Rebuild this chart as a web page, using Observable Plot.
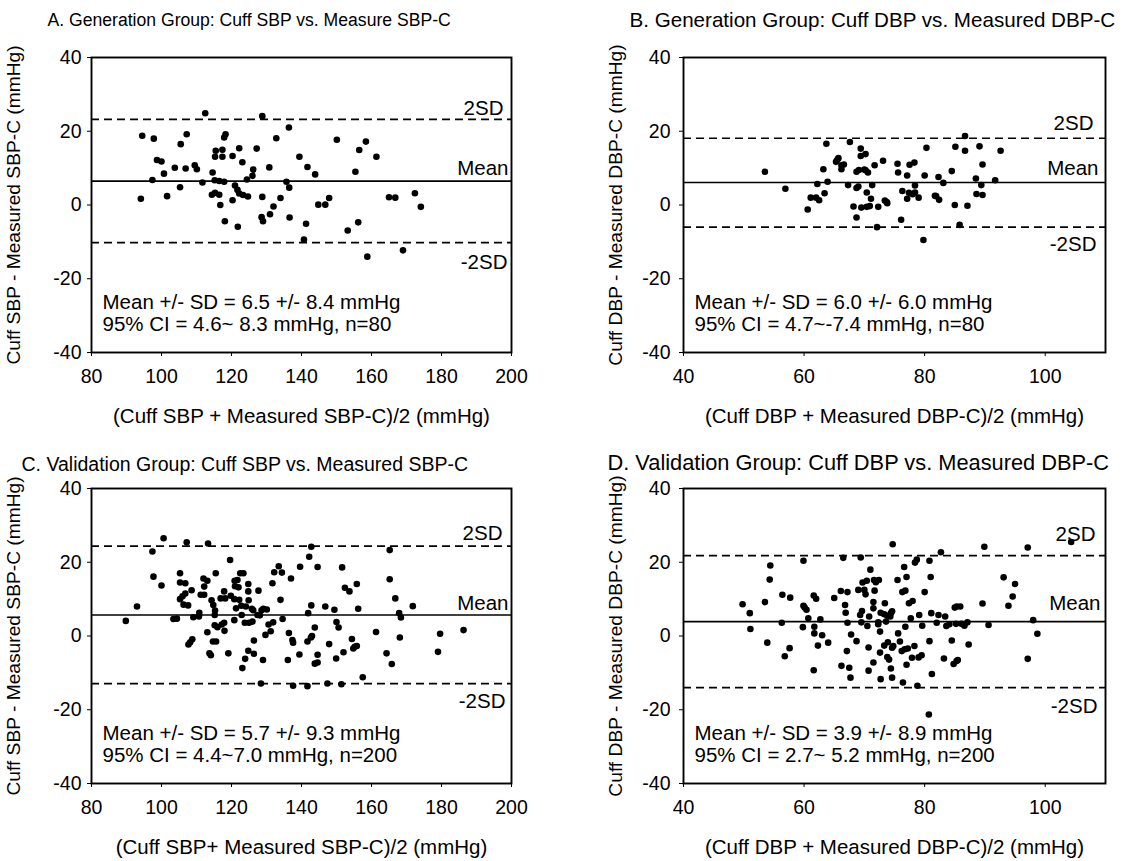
<!DOCTYPE html>
<html>
<head>
<meta charset="utf-8">
<script src="https://cdn.jsdelivr.net/npm/d3@7"></script>
<script src="https://cdn.jsdelivr.net/npm/@observablehq/plot@0.6"></script>
<style>
  body { margin: 0; background: #fff; }
  #wrap { position: relative; width: 1128px; height: 861px; overflow: hidden; background: #fff; }
  .panel { position: absolute; }
</style>
</head>
<body>
<div id="wrap"></div>
<script>
// ---- tick labels ----
const sbpTicks = [80, 100, 120, 140, 160, 180, 200];
const dbpTicks = [40, 60, 80, 100];
const diffTicks = [-40, -20, 0, 20, 40];

// ---- A. Generation group SBP ----
const genSbpAvg = [112.5,128.8,136.4,94.5,97.8,107.2,118.3,117.9,132.8,150.1,
  158.4,105.5,115.5,117.4,122.2,127.2,156.5,115.3,117.4,120.3,
  139.4,161.4,98.7,100.0,123.1,109.5,103.8,106.9,110.1,130.8,
  141.7,100.7,114.6,126.2,143.9,155.4,126.0,97.4,124.4,111.7,
  115.2,116.5,117.9,135.7,136.5,105.3,121.0,121.7,94.1,101.6,
  114.4,115.3,116.5,122.2,123.3,124.7,128.8,134.0,120.3,116.8,
  132.0,144.8,146.8,147.9,165.0,166.8,172.4,174.1,131.0,128.6,
  129.0,136.6,118.1,121.8,141.3,156.2,153.2,140.7,158.8,169.0];
const genSbpDiff = [24.9,24.1,21.0,18.8,18.0,19.2,19.2,18.3,18.1,17.7,
  17.2,16.5,14.7,15.0,15.4,15.3,14.9,13.1,13.1,13.3,
  13.1,13.1,12.2,11.8,11.6,10.8,10.1,9.9,9.7,10.2,
  10.3,8.5,8.8,9.6,8.3,9.0,7.9,6.8,6.9,6.1,
  6.7,6.5,6.3,6.3,4.7,4.8,5.3,4.1,1.7,2.4,
  2.8,3.3,2.8,3.1,2.7,2.3,2.2,1.9,1.3,0.0,
  -0.4,0.1,0.1,1.9,2.1,2.0,3.2,-0.5,-2.5,-3.3,
  -4.4,-3.4,-4.4,-5.9,-5.1,-4.7,-6.9,-9.4,-14.0,-12.3];
const genSbpLines = [6.5, 23.2, -10.2]; // mean, +2SD, -2SD

// ---- B. Generation group DBP ----
const genDbpAvg = [53.5,56.9,60.6,61.1,62.0,62.5,62.2,63.2,63.4,63.7,
  63.9,65.3,65.7,66.2,66.2,66.6,67.6,67.3,68.2,68.7,
  68.7,68.7,69.1,69.4,69.4,69.5,70.2,70.2,70.4,70.6,
  70.4,70.9,71.1,71.3,71.7,72.1,72.3,73.1,73.4,73.8,
  75.5,75.6,76.1,76.3,77.1,77.1,77.5,77.4,78.3,78.4,
  78.4,79.0,79.8,80.0,80.3,81.7,82.3,82.4,83.1,84.5,
  85.0,85.1,85.8,86.7,86.7,87.1,88.5,88.6,89.1,89.4,
  89.6,89.6,91.7,92.6,65.5,69.0,70.0,73.7,78.0,81.9];
const genDbpDiff = [9.0,4.4,-1.2,2.0,2.0,1.3,5.7,9.7,3.2,16.6,
  6.3,11.7,12.7,10.8,9.7,11.0,17.1,5.4,-0.4,4.6,
  -3.4,9.0,9.5,15.3,13.3,-0.7,13.8,9.4,3.4,8.8,
  -0.5,-0.3,1.7,5.4,10.8,-6.0,-0.5,12.0,1.2,0.5,
  11.2,8.8,-4.0,3.8,8.0,1.7,10.9,3.3,11.5,3.4,
  5.3,2.0,-9.5,8.0,15.5,2.5,7.6,1.4,6.0,9.2,
  0.0,15.8,-5.4,18.7,14.7,-0.2,7.2,3.0,15.9,5.4,
  11.0,2.7,6.7,14.7,12.2,5.0,9.6,0.8,2.9,2.4];
const genDbpLines = [6.1, 18.1, -6.0];

// ---- C. Validation group SBP ----
const valSbpAvg = [100.6,107.2,113.3,142.8,165.2,97.4,
  142.2,119.6,133.5,139.6,144.6,151.6,
  132.2,134.4,105.3,115.5,122.5,123.4,97.7,112.0,113.1,121.7,
  120.9,137.0,165.2,105.3,106.8,124.8,131.7,155.8,100.0,112.2,
  121.0,122.0,152.4,153.7,127.7,124.8,108.6,
  117.9,106.8,106.0,111.2,112.2,105.3,116.9,118.2,119.8,120.8,
  122.2,114.3,124.9,134.0,166.8,106.3,107.6,114.8,122.8,124.1,
  142.8,146.8,149.4,156.2,171.8,121.3,125.8,129.1,130.1,126.2,
  128.6,115.3,110.8,
  109.1,110.7,103.4,104.4,115.2,122.9,127.4,128.1,141.9,167.9,168.4,134.6,120.8,89.8,93.0,
  123.8,125.0,126.0,117.9,117.2,115.2,116.0,130.6,131.9,150.0,
  150.6,143.8,118.0,113.1,131.2,136.4,161.3,186.3,179.6,168.1,129.7,
  108.8,108.2,107.7,114.7,115.6,126.4,137.4,137.6,141.7,142.7,
  143.0,154.4,147.9,155.8,154.8,155.2,124.8,126.4,119.1,113.7,
  114.1,139.4,144.6,152.0,164.3,179.0,
  123.9,129.0,136.1,149.9,143.8,144.6,165.8,123.1,
  157.5,128.4,137.6,141.7,147.4,151.4];
const valSbpDiff = [26.5,25.4,25.1,24.2,23.3,22.9,
  21.5,20.6,18.9,18.8,18.7,18.6,
  17.3,17.2,17.0,17.0,17.0,17.0,16.1,15.6,15.0,15.2,
  15.0,15.6,15.4,14.5,14.3,14.1,14.3,14.1,13.7,13.4,
  13.5,13.2,13.1,12.1,12.3,12.1,12.4,
  12.1,11.5,10.8,11.2,11.2,10.0,10.2,10.2,10.9,10.0,
  9.8,9.7,9.7,9.8,10.2,8.5,8.3,8.4,8.2,8.0,
  8.3,8.0,7.1,7.4,8.1,7.5,7.4,7.4,7.2,7.0,
  7.0,6.9,6.3,
  5.1,5.3,4.6,4.7,5.7,5.7,5.7,5.6,6.2,6.2,5.0,4.6,4.3,4.1,8.0,
  3.6,3.6,3.9,3.6,3.1,2.9,2.4,3.1,3.7,3.8,
  2.3,2.3,1.4,1.0,1.3,0.8,1.1,1.6,0.6,-0.4,0.3,
  -0.9,-1.7,-2.3,-1.5,-1.5,-1.2,-1.1,-1.8,-1.5,-0.4,
  0.0,-0.8,-2.2,-2.7,-3.4,-2.9,-4.0,-4.8,-4.7,-4.7,
  -5.2,-5.0,-5.1,-4.4,-4.7,-4.3,
  -6.2,-6.5,-6.5,-6.1,-7.5,-7.2,-7.6,-8.7,
  -11.2,-12.9,-13.5,-13.6,-12.9,-13.1];
const valSbpLines = [5.7, 24.4, -12.9];

// ---- D. Validation group DBP ----
const valDbpAvg = [49.8,51.0,51.1,53.5,53.9,54.4,54.3,56.3,56.4,56.8,
  57.7,57.6,59.9,59.9,60.1,60.4,60.7,59.8,61.6,62.0,
  61.7,61.7,62.3,62.7,63.0,61.6,64.0,65.0,66.1,66.5,
  67.2,66.8,66.9,67.2,67.1,66.2,67.5,67.7,67.8,68.7,
  69.0,69.4,69.7,70.0,70.4,70.2,69.3,69.6,69.5,70.5,
  70.8,70.7,71.0,71.5,71.5,71.7,71.6,71.9,72.4,72.3,
  72.7,72.6,72.3,72.6,73.3,73.4,73.3,73.6,73.8,73.9,
  74.4,74.6,74.3,74.7,74.8,74.6,73.8,74.1,74.4,70.7,
  71.5,72.7,74.6,75.5,75.6,75.9,76.2,76.3,76.7,76.8,
  77.0,76.6,76.8,77.2,77.4,78.0,77.7,77.0,76.4,77.9,
  78.3,78.4,78.7,78.8,79.1,79.0,79.5,79.6,80.0,80.8,
  80.8,81.0,81.1,81.2,82.3,82.0,82.7,83.2,83.4,83.6,
  84.1,84.5,85.0,85.3,85.9,85.2,85.5,84.8,85.3,86.1,
  86.6,87.1,87.3,89.6,89.9,90.6,93.1,93.9,94.6,95.0,
  97.1,97.1,98.0,98.7,104.3,80.7];
const valDbpDiff = [8.6,6.2,1.9,9.2,-1.8,19.1,15.3,3.6,11.2,-5.5,
  10.4,-3.3,20.4,8.2,7.7,7.1,4.8,2.4,11.0,10.1,
  2.5,0.7,-2.6,4.5,0.2,-9.3,-1.8,10.3,12.2,21.2,
  11.9,8.4,6.3,3.6,-4.1,-8.1,-8.6,-11.3,0.4,-1.4,
  12.5,21.3,14.5,12.5,15.0,11.3,5.7,6.8,3.7,2.7,
  5.3,-3.1,18.0,9.2,7.5,12.3,15.2,14.6,15.2,3.2,
  6.3,1.2,3.7,-4.5,5.9,8.9,-2.6,3.9,5.5,-1.7,
  6.2,6.7,5.3,24.9,-2.7,-3.2,-5.7,-6.4,-8.8,-9.4,
  -7.2,-11.7,-11.3,15.2,0.7,-1.5,-4.1,11.9,-3.6,12.3,
  16.0,18.7,2.5,-3.4,8.9,9.5,4.8,-7.8,-12.6,-5.9,
  -2.7,19.9,20.7,-13.5,5.7,-5.8,-5.2,2.8,11.9,-1.4,
  20.4,16.0,6.2,-10.3,5.7,3.6,22.7,-6.1,5.3,2.7,
  3.2,-1.2,7.7,8.0,8.0,3.3,-6.5,-7.6,-6.8,3.3,
  2.8,3.7,-2.3,8.8,24.2,3.0,15.9,8.2,10.7,14.1,
  24.0,-6.2,4.3,0.6,25.5,-21.3];
const valDbpLines = [3.9, 21.8, -14.0];

// ---- texts ----
const titles = [
  "A. Generation Group: Cuff SBP vs. Measure SBP-C",
  "B. Generation Group: Cuff DBP vs. Measured DBP-C",
  "C. Validation Group: Cuff SBP vs. Measured SBP-C",
  "D. Validation Group: Cuff DBP vs. Measured DBP-C"
];
const yLabels = [
  "Cuff SBP - Measured SBP-C (mmHg)",
  "Cuff DBP - Measured DBP-C (mmHg)",
  "Cuff SBP - Measured SBP-C (mmHg)",
  "Cuff DBP - Measured DBP-C (mmHg)"
];
const xLabels = [
  "(Cuff SBP + Measured SBP-C)/2 (mmHg)",
  "(Cuff DBP + Measured DBP-C)/2 (mmHg)",
  "(Cuff SBP+ Measured SBP-C)/2 (mmHg)",
  "(Cuff DBP + Measured DBP-C)/2 (mmHg)"
];
const notes = [
  ["Mean +/- SD = 6.5 +/- 8.4 mmHg", "95% CI = 4.6~ 8.3 mmHg, n=80"],
  ["Mean +/- SD = 6.0 +/- 6.0 mmHg", "95% CI = 4.7~-7.4 mmHg, n=80"],
  ["Mean +/- SD = 5.7 +/- 9.3 mmHg", "95% CI = 4.4~7.0 mmHg, n=200"],
  ["Mean +/- SD = 3.9 +/- 8.9 mmHg", "95% CI = 2.7~ 5.2 mmHg, n=200"]
];
const lineLabels = ["Mean", "2SD", "-2SD"];

const FONT = "'Liberation Sans', Arial, Helvetica, sans-serif";
const FS = 20.5;   // x labels, notes, line labels
const YFS = 19.2;  // y axis labels
const TFS = 19.5;  // tick labels

function panel(p) {
  const n = Math.min(p.avg.length, p.diff.length);
  const data = d3.range(n).map(i => ({avg: p.avg[i], diff: p.diff[i]}));
  const [mean, up, lo] = p.lines;
  const T = (t, o) => Plot.text([t], Object.assign({text: d => d, fontSize: FS, fill: "black"}, o));
  const L = (t, v, off) => Plot.text([{t, v}], {y: "v", text: "t", frameAnchor: "right", textAnchor: "end",
    lineAnchor: "middle", dx: off[0], dy: off[1], fontSize: FS, fill: "black"});
  return Plot.plot({
    width: p.width, height: p.height,
    marginLeft: p.ml, marginRight: p.mr, marginTop: p.mt, marginBottom: p.height - p.mt - 295,
    style: {fontFamily: FONT, fontSize: TFS + "px", color: "black", background: "white", overflow: "visible"},
    x: {domain: p.xDomain, ticks: p.xTicks, label: null},
    y: {domain: [-40, 40], ticks: diffTicks, label: null},
    marks: [
      Plot.axisX({ticks: p.xTicks, tickSize: 4, tickPadding: 13, label: null, fontSize: TFS, tickFormat: d => String(d)}),
      Plot.axisY({ticks: diffTicks, tickSize: 4, tickPadding: p.yPad, label: null, fontSize: TFS, tickFormat: d => String(d)}),
      Plot.ruleY([mean], {stroke: "black", strokeWidth: 1.7}),
      Plot.ruleY([up, lo], {stroke: "black", strokeWidth: 1.7, strokeDasharray: "8,5"}),
      Plot.dot(data, {x: "avg", y: "diff", r: 3.3, fill: "black"}),
      Plot.frame({stroke: "black", strokeWidth: 1.9}),
      L(lineLabels[0], mean, p.meanOff),
      L(lineLabels[1], up, p.upOff),
      L(lineLabels[2], lo, p.loOff),
      T(p.notes[0], {frameAnchor: "bottom-left", textAnchor: "start", lineAnchor: "middle", dx: 11, dy: -50}),
      T(p.notes[1], {frameAnchor: "bottom-left", textAnchor: "start", lineAnchor: "middle", dx: 11, dy: -28}),
      T(p.title, {frameAnchor: "top-left", textAnchor: "start", lineAnchor: "middle",
        dx: p.titleX - p.left - p.ml, dy: p.titleY - p.top - p.mt, fontSize: p.titleFs}),
      T(p.yLabel, {frameAnchor: "left", textAnchor: "middle", lineAnchor: "middle", rotate: -90, dx: -p.yOff, fontSize: YFS}),
      T(p.xLabel, {frameAnchor: "bottom", textAnchor: "middle", lineAnchor: "middle", dy: 64})
    ]
  });
}

const specs = [
  {left: 0,   top: 0,   width: 530, height: 431, ml: 91,  mr: 19, mt: 57, xDomain: [80, 200], xTicks: sbpTicks,
   avg: genSbpAvg, diff: genSbpDiff, lines: genSbpLines, titleX: 47, titleY: 20, titleFs: 17.6, yOff: 78, yPad: 6,
   meanOff: [-3, -13], upOff: [-8, -11], loOff: [-4, 20]},
  {left: 564, top: 0,   width: 564, height: 431, ml: 119, mr: 23, mt: 57, xDomain: [40, 110], xTicks: dbpTicks,
   avg: genDbpAvg, diff: genDbpDiff, lines: genDbpLines, titleX: 629, titleY: 20, titleFs: 20.6, yOff: 68, yPad: 9,
   meanOff: [-7, -14], upOff: [-12, -15], loOff: [-9, 17]},
  {left: 0,   top: 431, width: 530, height: 430, ml: 91,  mr: 19, mt: 57, xDomain: [80, 200], xTicks: sbpTicks,
   avg: valSbpAvg, diff: valSbpDiff, lines: valSbpLines, titleX: 21, titleY: 464, titleFs: 19.5, yOff: 78, yPad: 6,
   meanOff: [-3, -12], upOff: [-9, -13], loOff: [-6, 18]},
  {left: 564, top: 431, width: 564, height: 430, ml: 119, mr: 23, mt: 57, xDomain: [40, 110], xTicks: dbpTicks,
   avg: valDbpAvg, diff: valDbpDiff, lines: valDbpLines, titleX: 607, titleY: 463, titleFs: 21.8, yOff: 68, yPad: 9,
   meanOff: [-5, -18], upOff: [-10, -21], loOff: [-8, 19]}
];

const wrap = document.getElementById("wrap");
specs.forEach((s, i) => {
  const el = panel(Object.assign({}, s, {title: titles[i], yLabel: yLabels[i], xLabel: xLabels[i], notes: notes[i]}));
  const div = document.createElement("div");
  div.className = "panel";
  div.style.left = s.left + "px";
  div.style.top = s.top + "px";
  div.appendChild(el);
  wrap.appendChild(div);
});
</script>
</body>
</html>
